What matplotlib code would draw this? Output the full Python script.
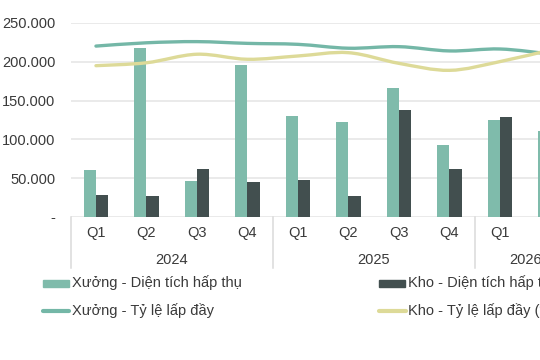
import numpy as np
import matplotlib
matplotlib.use("Agg")
import matplotlib.pyplot as plt
from matplotlib.path import Path
from matplotlib.patches import PathPatch, Rectangle
from matplotlib.lines import Line2D
from matplotlib.transforms import blended_transform_factory

plt.rcParams["font.family"] = ["Liberation Sans", "DejaVu Sans"]

# data
quarters = ["Q1", "Q2", "Q3", "Q4", "Q1", "Q2", "Q3", "Q4", "Q1", "Q2"]
years = ["2024", "2025", "2026"]
year_sizes = [4, 4, 2]
xuong_absorb = [60000, 218000, 47000, 195500, 130500, 122000, 166500, 93000, 125500, 111000]
kho_absorb = [28500, 26500, 62000, 45000, 47500, 26500, 138000, 61500, 129500, 90000]
xuong_occ = [0.881, 0.898, 0.904, 0.895, 0.890, 0.870, 0.878, 0.856, 0.866, 0.840]
kho_occ = [0.780, 0.795, 0.839, 0.813, 0.830, 0.847, 0.792, 0.756, 0.801, 0.861]

labels = ["Xưởng - Diện tích hấp thụ", "Kho - Diện tích hấp thụ",
          "Xưởng - Tỷ lệ lấp đầy", "Kho - Tỷ lệ lấp đầy (*)"]

TEAL = "#7FBBAB"
DARK = "#424F4F"
TEAL_LINE = "#74B7A7"
YELLOW = "#DDDA98"
TXT = "#3A3A3A"
GRID = "#E4E4E4"
FS = 10.5


def smooth_path(xs, ys):
    # Catmull-Rom through the points, as cubic Bezier segments
    p = np.column_stack([xs, ys]).astype(float)
    p = np.vstack([p[0], p, p[-1]])
    verts = [tuple(p[1])]
    codes = [Path.MOVETO]
    for i in range(1, len(p) - 2):
        b1 = p[i] + (p[i + 1] - p[i - 1]) / 6
        b2 = p[i + 1] - (p[i + 2] - p[i]) / 6
        verts += [tuple(b1), tuple(b2), tuple(p[i + 1])]
        codes += [Path.CURVE4] * 3
    return Path(verts, codes)


fig = plt.figure(figsize=(5.4, 3.6), dpi=100)
W, H = 540, 360
ax = fig.add_axes([70.7 / W, 1 - 217 / H, 505 / W, 194 / H])

x = np.arange(len(quarters))
bw = 0.242
ax.bar(x - bw / 2, xuong_absorb, bw, color=TEAL, zorder=2)
ax.bar(x + bw / 2, kho_absorb, bw, color=DARK, zorder=2)

ax.set_xlim(-0.5, len(quarters) - 0.5)
ax.set_ylim(0, 250000)
ax.set_yticks(np.arange(0, 250001, 50000))
ax.set_yticklabels(["-" if v == 0 else f"{v:,.0f}".replace(",", ".")
                    for v in np.arange(0, 250001, 50000)])
ax.tick_params(axis="y", length=0, pad=11, labelsize=FS, labelcolor=TXT)
ax.set_xticks([])
for s in ax.spines.values():
    s.set_visible(False)
ax.yaxis.grid(True, color=GRID, lw=1.1)
ax.set_axisbelow(True)

ax2 = ax.twinx()
ax2.set_ylim(0, 1)
ax2.set_axis_off()
for vals, col in [(xuong_occ, TEAL_LINE), (kho_occ, YELLOW)]:
    ax2.add_patch(PathPatch(smooth_path(x, vals), fill=False, edgecolor=col,
                            lw=2.4, capstyle="round", zorder=3))

# multi-level category axis
tr = blended_transform_factory(ax.transData, fig.transFigure)
for i, q in enumerate(quarters):
    ax.text(i, 1 - 233.5 / H, q, transform=tr, ha="center", va="center",
            fontsize=FS, color=TXT)
start = -0.5
bounds = [start]
for yr, n in zip(years, year_sizes):
    ax.text(start + n / 2, 1 - 260.5 / H, yr, transform=tr, ha="center",
            va="center", fontsize=FS, color=TXT)
    start += n
    bounds.append(start)
for b in bounds:
    fig.add_artist(Line2D([b, b], [1 - 217 / H, 1 - 268 / H], transform=tr,
                          color="#DADADA", lw=1.1))

# legend
def fx(px):
    return px / W


def fy(py):
    return 1 - py / H


rows = [283, 310.5]
cols = [43, 379.5]
kinds = [("bar", TEAL), ("bar", DARK), ("line", TEAL_LINE), ("line", YELLOW)]
for k, (lab, (kind, col)) in enumerate(zip(labels, kinds)):
    cx = cols[k % 2]
    cy = rows[k // 2]
    if kind == "bar":
        fig.add_artist(Rectangle((fx(cx), fy(cy + 3.5)), fx(26), 7 / H,
                                 transform=fig.transFigure, color=col))
    else:
        fig.add_artist(Line2D([fx(cx), fx(cx + 26)], [fy(cy), fy(cy)],
                              transform=fig.transFigure, color=col, lw=3,
                              solid_capstyle="round"))
    fig.text(fx(cx + 28.5), fy(cy), lab, ha="left", va="center",
             fontsize=FS, color=TXT)

fig.savefig("out.png", dpi=100, facecolor="white")
